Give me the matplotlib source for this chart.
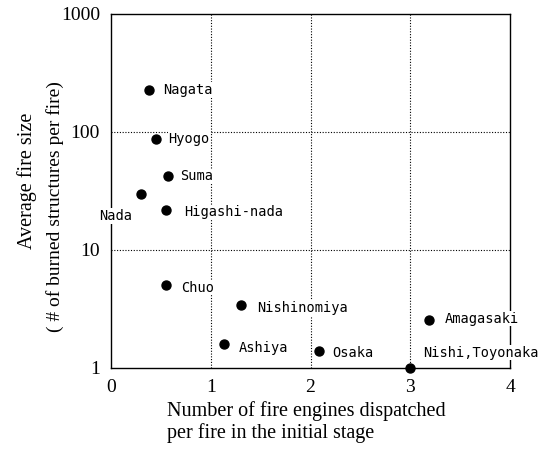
import numpy as np
import matplotlib.pyplot as plt

# Data
wards = ['Nagata', 'Hyogo', 'Suma', 'Nada', 'Higashi-nada', 'Chuo',
         'Nishinomiya', 'Ashiya', 'Osaka', 'Amagasaki', 'Nishi,Toyonaka']
engines = [0.38, 0.45, 0.57, 0.30, 0.55, 0.55, 1.30, 1.13, 2.09, 3.19, 3.00]
fire_size = [227, 87, 42, 30, 22, 5.05, 3.4, 1.6, 1.39, 2.55, 1.0]

# label offsets in points (dx, dy)
offsets = {
    'Nagata': (10, 0), 'Hyogo': (9, 0), 'Suma': (9, 0),
    'Nada': (-30, -16), 'Higashi-nada': (13, -2),
    'Chuo': (11, -2), 'Nishinomiya': (12, -2),
    'Ashiya': (11, -3), 'Osaka': (9, -1),
    'Amagasaki': (11, 1), 'Nishi,Toyonaka': (9, 11),
}

serif = 'Liberation Serif'
lab_font = 'DejaVu Sans Mono'

fig = plt.figure(figsize=(5.38, 4.70), dpi=100)
ax = fig.add_axes([111 / 538, 1 - 368 / 470, 399 / 538, 354 / 470])

ax.scatter(engines, fire_size, s=42, color='black', zorder=4, clip_on=False)
ax.set_yscale('log')
ax.set_xlim(0, 4)
ax.set_ylim(1, 1000)

for name, x, y in zip(wards, engines, fire_size):
    dx, dy = offsets[name]
    ax.annotate(name, (x, y), xytext=(dx, dy), textcoords='offset points',
                ha='left', va='center', fontsize=9.8, family=lab_font, zorder=5,
                bbox=dict(facecolor='white', edgecolor='none', pad=0.5))

ax.set_xticks([0, 1, 2, 3, 4])
ax.set_xticklabels(['0', '1', '2', '3', '4'])
ax.set_yticks([1, 10, 100, 1000])
ax.set_yticklabels(['1', '10', '100', '1000'])
ax.minorticks_off()
ax.tick_params(length=0, pad=8, labelsize=14)
for lbl in ax.get_xticklabels() + ax.get_yticklabels():
    lbl.set_family(serif)

for gx in [1, 2, 3]:
    ax.axvline(gx, color='black', lw=0.8, ls=(0, (1, 1.5)), zorder=1)
for gy in [10, 100]:
    ax.axhline(gy, color='black', lw=0.8, ls=(0, (1, 1.5)), zorder=1)

for sp in ax.spines.values():
    sp.set_linewidth(1.0)

fig.text(27 / 538, 1 - 181 / 470, 'Average fire size', rotation=90,
         ha='center', va='center', fontsize=14.5, family=serif)
fig.text(55 / 538, 1 - 207 / 470, '( # of burned structures per fire)',
         rotation=90, ha='center', va='center', fontsize=14, family=serif)
fig.text(167 / 538, 1 - 422 / 470,
         'Number of fire engines dispatched\nper fire in the initial stage',
         ha='left', va='center', fontsize=14.5, family=serif, linespacing=1.15)

fig.savefig('out.png', dpi=100)
